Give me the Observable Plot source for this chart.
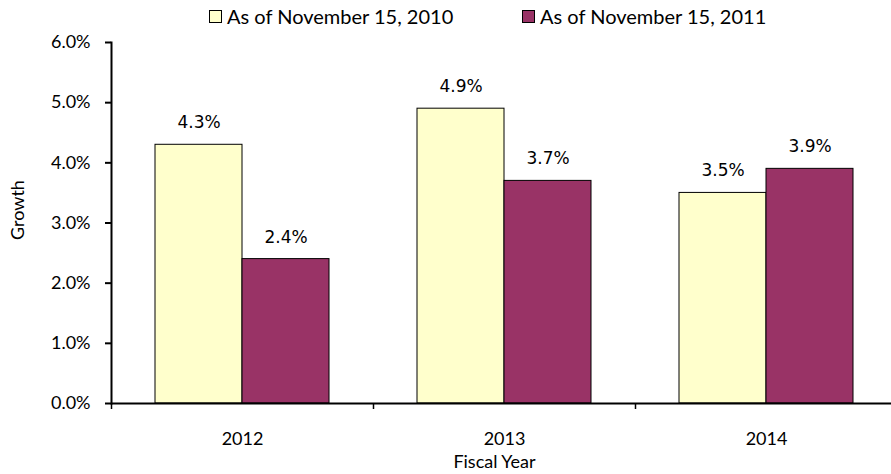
<!DOCTYPE html>
<html>
<head>
<meta charset="utf-8">
<script src="https://cdn.jsdelivr.net/npm/d3@7"></script>
<script src="https://cdn.jsdelivr.net/npm/@observablehq/plot@0.6"></script>
<style>
  body { margin: 0; background: #fff; font-family: Lato, sans-serif; }
  #legend { position: relative; width: 891px; height: 22px; font-family: Lato, sans-serif; font-size: 20px; color: #000; }
  #legend .sw { position: absolute; top: 10px; width: 13px; height: 13px; box-sizing: border-box; border: 1px solid #000; }
  #legend .lb { position: absolute; top: 0; line-height: 32px; white-space: nowrap; }
  g[aria-label="value labels"] text { letter-spacing: 1.5px; }
</style>
</head>
<body>
<div id="legend"></div>
<div id="chart"></div>
<script>
const years = ["2012", "2013", "2014"];
const series = ["As of November 15, 2010", "As of November 15, 2011"];
const values2010 = [4.3, 4.9, 3.5];
const values2011 = [2.4, 3.7, 3.9];
const colors = ["#FFFFCC", "#993366"];
const yTicks = [0, 1, 2, 3, 4, 5, 6];
const yLabel = "Growth";
const xLabel = "Fiscal Year";

const data = years.flatMap((yr, i) => [
  {year: yr, series: series[0], value: values2010[i]},
  {year: yr, series: series[1], value: values2011[i]}
]);

// legend
const legend = document.getElementById("legend");
const legendPos = [{sw: 209, lb: 227}, {sw: 522, lb: 540}];
series.forEach((s, i) => {
  const sw = document.createElement("div");
  sw.className = "sw"; sw.style.left = legendPos[i].sw + "px"; sw.style.background = colors[i];
  const lb = document.createElement("div");
  lb.className = "lb"; lb.style.left = legendPos[i].lb + "px"; lb.textContent = s;
  legend.appendChild(sw); legend.appendChild(lb);
});

const fmt = d => d.toFixed(1) + "%";
const fxRange = [111, 897];
const fxScale = Plot.scale({fx: {type: "band", domain: years, range: fxRange, padding: 0}});
const bw = fxScale.bandwidth;

const chart = Plot.plot({
  width: 891,
  height: 452,
  marginTop: 20,
  marginLeft: 111,
  marginRight: -6,
  marginBottom: 71,
  style: {fontFamily: "Lato, sans-serif", fontSize: "18px", color: "#000", background: "#fff", overflow: "visible"},
  fx: {domain: years, padding: 0},
  x: {domain: series, paddingInner: 0, paddingOuter: 0.5, axis: null},
  y: {domain: [0, 6], axis: null},
  color: {domain: series, range: colors},
  marks: [
    Plot.barY(data, {fx: "year", x: "series", y: "value", fill: "series", stroke: "#000", strokeWidth: 1}),
    Plot.text(data, {fx: "year", x: "series", y: "value", text: d => fmt(d.value), dy: -22,
      fontFamily: "DejaVu Sans", fontSize: 17, fill: "#000", ariaLabel: "value labels"}),
    Plot.ruleY([0], {stroke: "#000", strokeWidth: 2}),
    Plot.frame({anchor: "left", facet: "super", stroke: "#000", strokeWidth: 2}),
    Plot.axisY(yTicks, {anchor: "left", tickSize: 6, tickPadding: 15, tickFormat: fmt, strokeWidth: 2,
      fontSize: 18, label: null}),
    Plot.axisFx({anchor: "bottom", text: null, tickSize: 6, dx: -bw / 2, strokeWidth: 1.5, label: null}),
    Plot.axisFx({anchor: "bottom", tickSize: 0, tickPadding: 29, fontSize: 18, label: null}),
    Plot.text([yLabel], {frameAnchor: "left", rotate: -90, dx: -93, dy: 17, fontSize: 18, facet: "super"}),
    Plot.text([xLabel], {frameAnchor: "bottom", dx: -10, dy: 64, fontSize: 18, facet: "super"})
  ]
});
document.getElementById("chart").appendChild(chart);
</script>
</body>
</html>
